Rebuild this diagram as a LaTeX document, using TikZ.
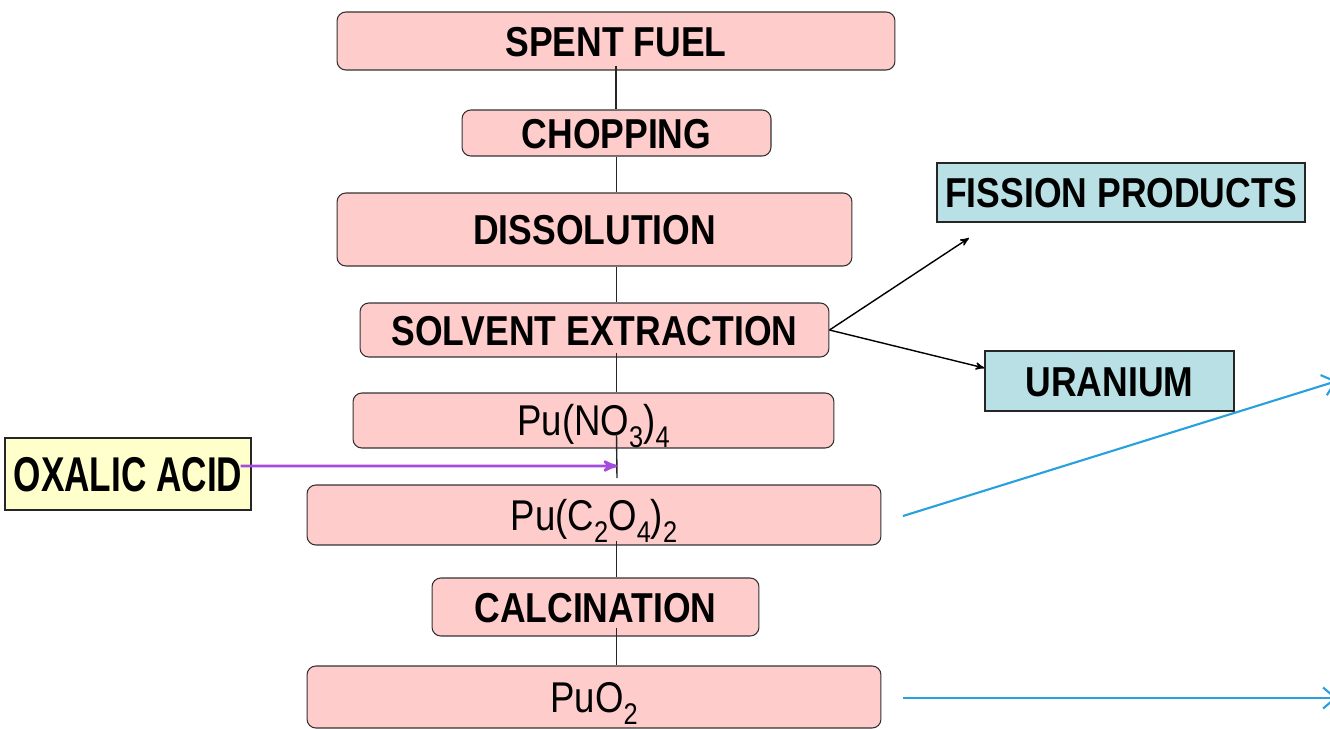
\documentclass[tikz,border=0pt]{standalone}
\usepackage{fontspec}
\setmainfont{Liberation Sans}[FakeStretch=0.85]
\newfontfamily\narrowfont{Liberation Sans}[FakeStretch=0.72]
\usetikzlibrary{arrows,arrows.meta,positioning}
\definecolor{stepfill}{RGB}{255,204,204}
\definecolor{outfill}{RGB}{185,224,228}
\definecolor{infill}{RGB}{255,255,204}
\definecolor{feedline}{RGB}{165,75,222}
\definecolor{linkblue}{RGB}{40,160,222}
\newcommand\chemsub[1]{\raisebox{-0.28em}{\fontsize{17}{18}\selectfont #1}}
\tikzset{
    stage/.style={
        rectangle,
        rounded corners=5pt,
        draw=black!80,
        semithick,
        fill=stepfill,
        text height=0.6cm,
        text depth=0pt,
        inner sep=0pt,
        font=\fontsize{23.8}{26}\selectfont\bfseries,
    },
    formula/.style={
        stage,
        font=\fontsize{24.5}{26}\selectfont,
    },
    product/.style={
        rectangle,
        draw=black!85,
        thick,
        fill=outfill,
        text height=0.6cm,
        text depth=0pt,
        inner sep=0pt,
        font=\fontsize{23.8}{26}\selectfont\bfseries,
    },
    reagent/.style={
        rectangle,
        draw=black!85,
        thick,
        fill=infill,
        text height=0.7cm,
        text depth=0pt,
        inner sep=0pt,
        font=\fontsize{27.8}{30}\selectfont\narrowfont\bfseries,
    },
    spine/.style={
        draw,
        -,
        black!85,
        thick,
    },
    feed/.style={
        draw,
        ->,>=stealth',
        feedline,
        line width=1.6pt,
    },
    link/.style={
        draw,
        -{Straight Barb[length=7pt,width=12pt]},
        linkblue,
        line width=1.2pt,
    },
    every edge/.style={
        draw,
        ->,>=stealth',
        thick
    },
}

\begin{document}
\begin{tikzpicture}[x=0.02cm,y=-0.02cm]
    \useasboundingbox (0,0) rectangle (1330,728);

    \node [stage, minimum width=11.16cm, minimum height=1.16cm] (spent) at (616,41) {SPENT FUEL};
    \node [stage, minimum width=6.18cm, minimum height=0.92cm] (chop) at (616.5,133) {CHOPPING};
    \node [stage, minimum width=10.3cm, minimum height=1.46cm] (dis) at (594.5,229.5) {DISSOLUTION};
    \node [stage, minimum width=9.38cm, minimum height=1.08cm] (solv) at (594.5,330) {SOLVENT EXTRACTION};
    \node [formula, minimum width=9.62cm, minimum height=1.1cm] (puno) at (593.5,420.5) {Pu(NO\chemsub{3})\chemsub{4}};
    \node [formula, minimum width=11.48cm, minimum height=1.2cm] (pucox) at (594,515) {Pu(C\chemsub{2}O\chemsub{4})\chemsub{2}};
    \node [stage, minimum width=6.54cm, minimum height=1.16cm] (calc) at (595.5,607) {CALCINATION};
    \node [formula, minimum width=11.48cm, minimum height=1.24cm] (puo) at (594,697) {PuO\chemsub{2}};

    \node [product, minimum width=7.36cm, minimum height=1.18cm] (fiss) at (1121,192.5) {FISSION PRODUCTS};
    \node [product, minimum width=4.98cm, minimum height=1.2cm] (uran) at (1109.5,381) {URANIUM};
    \node [reagent, minimum width=4.92cm, minimum height=1.44cm] (oxal) at (128,474) {OXALIC ACID};

    \coordinate (fissin) at (969,238);
    \coordinate (mix) at (617,466);
    \coordinate (mixend) at (617,478);
    \coordinate (link1) at (903,516);
    \coordinate (link1end) at (1337,381);
    \coordinate (link2) at (903,698);
    \coordinate (link2end) at (1337,698);

    \draw[spine] ([yshift=0.1cm]spent.south) -- (spent.south |- chop.north);
    \draw[spine] (chop.south) -- (chop.south |- dis.north);
    \draw[spine] (chop.south |- dis.south) -- (chop.south |- solv.north);
    \draw[spine] ([yshift=0.1cm]chop.south |- solv.south) -- (chop.south |- puno.north);
    \draw[spine] ([yshift=0.3cm]chop.south |- puno.south) -- (mixend);
    \draw[spine] ([yshift=0.1cm]chop.south |- pucox.south) -- (chop.south |- calc.north);
    \draw[spine] ([yshift=0.18cm]chop.south |- calc.south) -- (chop.south |- puo.north);

    \draw (solv.east) edge (fissin);
    \draw (solv.east) edge ([yshift=0.26cm]uran.west);
    \draw ([xshift=-0.22cm,yshift=0.16cm]oxal.east) edge[feed] (mix);
    \draw (link1) edge[link] (link1end);
    \draw (link2) edge[link] (link2end);
\end{tikzpicture}
\end{document}
